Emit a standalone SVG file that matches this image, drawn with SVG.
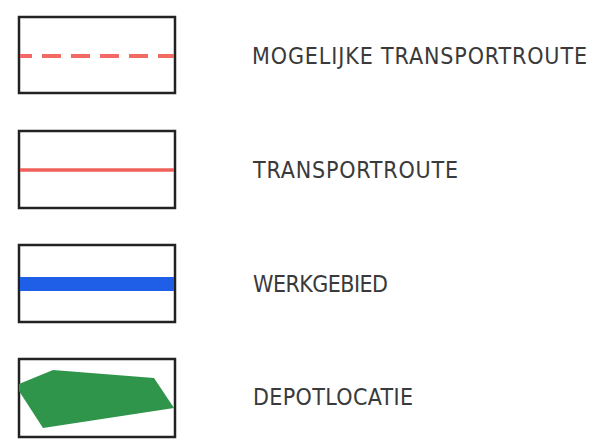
<svg xmlns="http://www.w3.org/2000/svg" width="607" height="447" viewBox="0 0 607 447">
<style>
.box{fill:#fff;stroke:#222;stroke-width:2.5}
.lbl{font-family:"DejaVu Sans Condensed","DejaVu Sans",sans-serif;font-size:23px;fill:#3a3a3a;font-weight:300;font-stretch:condensed}
</style>
<rect width="607" height="447" fill="#fff"/>
<g id="mogelijke-transportroute">
<rect class="box" x="19" y="17" width="156" height="76"/>
<line x1="20" y1="56" x2="174" y2="56" stroke="#f26a62" stroke-width="4" stroke-dasharray="12 10 19 10 19 10 19 10 19 10 19 10"/>
<text class="lbl" x="252" y="64" textLength="335" lengthAdjust="spacing">MOGELIJKE TRANSPORTROUTE</text>
</g>
<g id="transportroute">
<rect class="box" x="19" y="131" width="156" height="77"/>
<line x1="20" y1="170" x2="174" y2="170" stroke="#f0605a" stroke-width="3.5"/>
<text class="lbl" x="253" y="178" textLength="205" lengthAdjust="spacing">TRANSPORTROUTE</text>
</g>
<g id="werkgebied">
<rect class="box" x="19" y="245" width="156" height="77"/>
<line x1="20" y1="284" x2="174" y2="284" stroke="#1f5ee6" stroke-width="14"/>
<text class="lbl" x="253" y="292" textLength="135" lengthAdjust="spacing">WERKGEBIED</text>
</g>
<g id="depotlocatie">
<rect class="box" x="19" y="359" width="156" height="78"/>
<polygon points="19,384 53,370 154,378 174,408 43,428 19,391" fill="#2e954a"/>
<text class="lbl" x="253" y="405" textLength="160" lengthAdjust="spacing">DEPOTLOCATIE</text>
</g>
<g id="connectors"/>
</svg>
